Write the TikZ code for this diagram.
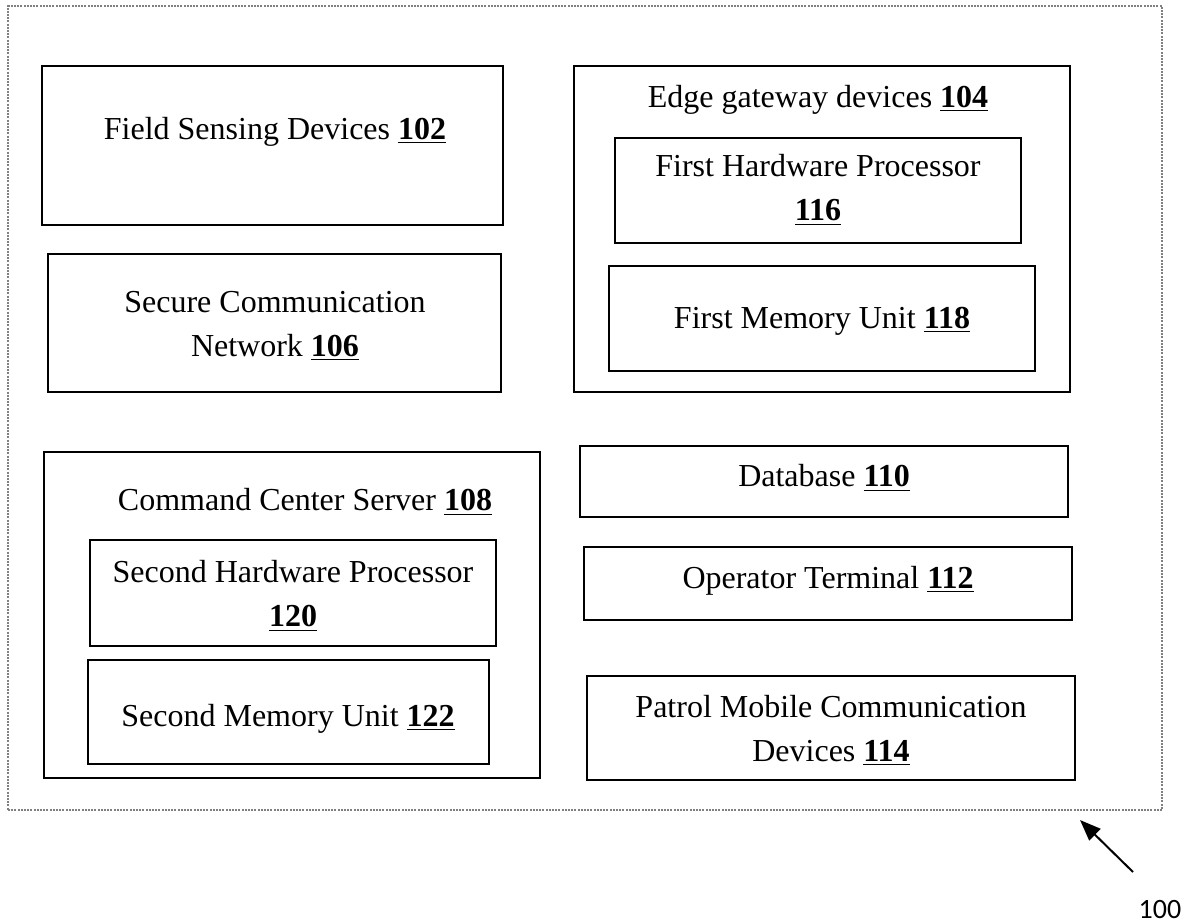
\documentclass[tikz,border=0pt]{standalone}
\usepackage{fontspec}
\setmainfont{Liberation Serif}
\newfontfamily\figlabelfont{Carlito}
\usetikzlibrary{arrows.meta}
\newcommand\refnum[1]{\underline{\textbf{#1}}}
\begin{document}
\begin{tikzpicture}[x=0.5pt,y=-0.5pt,
  box/.style={draw, line width=1.1pt, inner sep=0pt},
  txt/.style={font=\fontsize{16}{22}\selectfont, align=center, inner sep=0pt},
]
\useasboundingbox (0,0) rectangle (1189,923);
% system boundary
\node[draw=black!50, dash pattern=on 1pt off 0.6pt, line width=0.6pt, minimum width=577pt, minimum height=402pt, inner sep=0pt] (system) at (585,408) {};
% left column
\node[box, minimum width=230.5pt, minimum height=79.5pt] (b102) at (272.5,145.5) {};
\node[txt] (t102) at (275,132) {Field Sensing Devices \refnum{102}};
\node[box, minimum width=226.5pt, minimum height=69pt] (b106) at (274.5,323) {};
\node[txt] (t106) at (275,326) {Secure Communication\\Network \refnum{106}};
% edge gateway devices
\node[box, minimum width=248pt, minimum height=163pt] (b104) at (822,229) {};
\node[txt] (t104) at (818,100) {Edge gateway devices \refnum{104}};
\node[box, minimum width=203pt, minimum height=52.5pt] (b116) at (818,190.5) {};
\node[txt] (t116) at (818,190) {First Hardware Processor\\\refnum{116}};
\node[box, minimum width=213pt, minimum height=52.5pt] (b118) at (822,318.5) {};
\node[txt] (t118) at (822,321) {First Memory Unit \refnum{118}};
% command center server
\node[box, minimum width=248pt, minimum height=163pt] (b108) at (292,615) {};
\node[txt] (t108) at (305,502) {Command Center Server \refnum{108}};
\node[box, minimum width=203pt, minimum height=53pt] (b120) at (293,593) {};
\node[txt] (t120) at (293,596) {Second Hardware Processor\\\refnum{120}};
\node[box, minimum width=200.5pt, minimum height=52pt] (b122) at (288.5,712) {};
\node[txt] (t122) at (288,719) {Second Memory Unit \refnum{122}};
% right column
\node[box, minimum width=244pt, minimum height=35.5pt] (b110) at (824,481.5) {};
\node[txt] (t110) at (824,478) {Database \refnum{110}};
\node[box, minimum width=244pt, minimum height=36.5pt] (b112) at (828,583.5) {};
\node[txt] (t112) at (828,581) {Operator Terminal \refnum{112}};
\node[box, minimum width=244pt, minimum height=52pt] (b114) at (831,728) {};
\node[txt] (t114) at (831,730) {Patrol Mobile Communication\\Devices \refnum{114}};
% reference numeral with its leader arrow
\node[font=\figlabelfont\fontsize{14}{16}\selectfont, inner sep=0pt] (n100) at (1160,909) {100};
\coordinate (tail) at (1133,872);
\coordinate (tip) at (1080,820);
\draw[line width=1pt, -{Triangle[length=10.5pt,width=8pt]}] (tail) -- (tip);
\end{tikzpicture}
\end{document}
